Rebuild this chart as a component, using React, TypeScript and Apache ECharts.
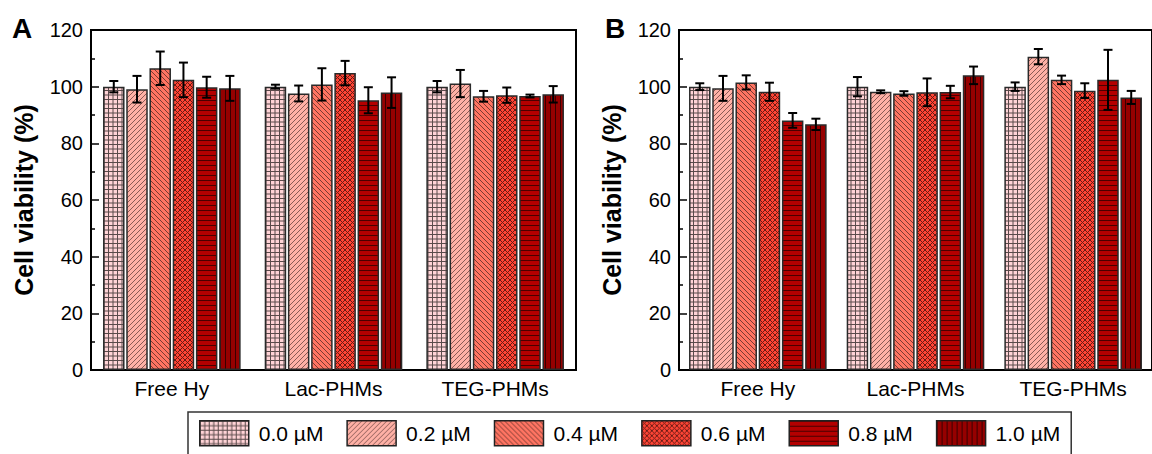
import React, { useEffect, useRef } from 'react';
import * as echarts from 'echarts';

const categories = ['Free Hy', 'Lac-PHMs', 'TEG-PHMs'];
const doses = ['0.0 µM', '0.2 µM', '0.4 µM', '0.6 µM', '0.8 µM', '1.0 µM'];
const yTicks = [0, 20, 40, 60, 80, 100, 120];

// Panel A: mean viability per dose (rows) across categories (columns)
const meansA = [
  [100.0, 100.0, 100.0],
  [99.1, 97.6, 101.1],
  [106.5, 100.8, 96.6],
  [102.4, 104.8, 97.0],
  [99.8, 95.2, 96.7],
  [99.4, 97.9, 97.3],
];
const errA = [
  [2.0, 0.7, 2.0],
  [4.7, 2.8, 4.8],
  [5.9, 5.7, 1.9],
  [6.1, 4.3, 2.7],
  [3.7, 4.6, 0.5],
  [4.4, 5.4, 2.9],
];
// Panel B
const meansB = [
  [100.0, 100.0, 100.0],
  [99.4, 98.2, 110.6],
  [101.5, 97.6, 102.4],
  [98.2, 98.0, 98.6],
  [88.1, 98.1, 102.4],
  [86.7, 104.0, 96.2],
];
const errB = [
  [1.2, 3.4, 1.5],
  [4.4, 0.5, 2.7],
  [2.5, 0.8, 1.5],
  [3.2, 4.9, 2.6],
  [2.6, 2.2, 10.6],
  [2.0, 3.1, 2.3],
];

const fills = ['#FFD3D6', '#FFB1A6', '#FF7462', '#FF4535', '#B40000', '#960000'];
const strokes = ['#5a4a4a', '#8a5a55', '#7a3a32', '#6a1a14', '#4a0000', '#3a0000'];
const kinds = ['grid', 'up', 'down', 'cross', 'h', 'v'];
const sizes = [4.5, 5, 5, 5, 5, 5];

function makePattern(kind: string, bg: string, fg: string, s: number) {
  const c = document.createElement('canvas');
  const n = Math.round(s * 2);
  c.width = n;
  c.height = n;
  const ctx = c.getContext('2d')!;
  ctx.fillStyle = bg;
  ctx.fillRect(0, 0, n, n);
  ctx.strokeStyle = fg;
  ctx.lineWidth = 1;
  const t = n;
  const up = () => {
    ctx.beginPath();
    for (const o of [-t, 0, t]) {
      ctx.moveTo(o, t);
      ctx.lineTo(o + t, 0);
      ctx.moveTo(o - t / 2, t / 2 + 0);
      ctx.lineTo(o + t / 2, -t / 2);
    }
    // two lines per tile
    ctx.moveTo(-1, t / 2 + 1);
    ctx.lineTo(t / 2 + 1, -1);
    ctx.moveTo(t / 2 - 1, t + 1);
    ctx.lineTo(t + 1, t / 2 - 1);
    ctx.stroke();
  };
  const down = () => {
    ctx.beginPath();
    ctx.moveTo(-1, -1);
    ctx.lineTo(t + 1, t + 1);
    ctx.moveTo(t / 2 - 1, -1);
    ctx.lineTo(t + 1, t / 2 + 1);
    ctx.moveTo(-1, t / 2 - 1);
    ctx.lineTo(t / 2 + 1, t + 1);
    ctx.moveTo(-t / 2 - 1, -1);
    ctx.lineTo(t / 2 + 1, t + 1);
    ctx.moveTo(t / 2 - 1, -1);
    ctx.lineTo(3 * t / 2 + 1, t + 1);
    ctx.stroke();
  };
  const upClean = () => {
    ctx.beginPath();
    ctx.moveTo(-1, t + 1);
    ctx.lineTo(t + 1, -1);
    ctx.moveTo(-1, t / 2 + 1);
    ctx.lineTo(t / 2 + 1, -1);
    ctx.moveTo(t / 2 - 1, t + 1);
    ctx.lineTo(t + 1, t / 2 - 1);
    ctx.stroke();
  };
  if (kind === 'grid') {
    ctx.beginPath();
    ctx.moveTo(0.5, 0);
    ctx.lineTo(0.5, t);
    ctx.moveTo(t / 2 + 0.5, 0);
    ctx.lineTo(t / 2 + 0.5, t);
    ctx.moveTo(0, 0.5);
    ctx.lineTo(t, 0.5);
    ctx.moveTo(0, t / 2 + 0.5);
    ctx.lineTo(t, t / 2 + 0.5);
    ctx.stroke();
  } else if (kind === 'h') {
    ctx.beginPath();
    ctx.moveTo(0, 0.5);
    ctx.lineTo(t, 0.5);
    ctx.moveTo(0, t / 2 + 0.5);
    ctx.lineTo(t, t / 2 + 0.5);
    ctx.stroke();
  } else if (kind === 'v') {
    ctx.beginPath();
    ctx.moveTo(0.5, 0);
    ctx.lineTo(0.5, t);
    ctx.moveTo(t / 2 + 0.5, 0);
    ctx.lineTo(t / 2 + 0.5, t);
    ctx.stroke();
  } else if (kind === 'up') {
    upClean();
  } else if (kind === 'down') {
    down();
  } else if (kind === 'cross') {
    upClean();
    down();
  }
  void up;
  return { image: c, repeat: 'repeat', imageWidth: n, imageHeight: n };
}

const BAR_W = 21.5;
const GAP = 0.08;
const PITCH = BAR_W * (1 + GAP);
const FONT = 'Liberation Sans, Arial, sans-serif';

function buildOption() {
  const patterns = kinds.map((k, i) => makePattern(k, fills[i], strokes[i], sizes[i]));
  const grids = [
    { left: 91, top: 30, width: 485, height: 340, show: true, borderColor: '#000', borderWidth: 2, backgroundColor: 'transparent' },
    { left: 679, top: 30, width: 485, height: 340, show: true, borderColor: '#000', borderWidth: 2, backgroundColor: 'transparent' },
  ];
  const xAxes = [0, 1].map((g) => ({
    type: 'category',
    gridIndex: g,
    data: categories,
    axisLine: { lineStyle: { color: '#000', width: 2 } },
    axisTick: { show: false },
    axisLabel: { color: '#000', fontSize: 21, fontFamily: FONT, margin: 8 },
  }));
  const yAxes = [0, 1].map((g) => ({
    type: 'value',
    gridIndex: g,
    min: yTicks[0],
    max: yTicks[yTicks.length - 1],
    interval: 20,
    axisLine: { show: true, lineStyle: { color: '#000', width: 2 } },
    axisTick: { show: true, inside: true, length: 8, lineStyle: { color: '#000', width: 1.5 } },
    minorTick: { show: true, splitNumber: 2, length: 4, lineStyle: { color: '#000', width: 1.5 } },
    splitLine: { show: false },
    axisLabel: { color: '#000', fontSize: 20, fontFamily: FONT, margin: 8 },
  }));
  const series: any[] = [];
  const panels = [
    { means: meansA, errs: errA },
    { means: meansB, errs: errB },
  ];
  panels.forEach((p, g) => {
    doses.forEach((d, i) => {
      series.push({
        type: 'bar',
        name: d,
        xAxisIndex: g,
        yAxisIndex: g,
        barWidth: BAR_W,
        barGap: GAP * 100 + '%',
        data: p.means[i],
        itemStyle: { color: patterns[i], borderColor: '#2a2a2a', borderWidth: 1.5 },
        z: 2,
      });
    });
    doses.forEach((d, i) => {
      series.push({
        type: 'custom',
        name: 'err-' + g + '-' + i,
        xAxisIndex: g,
        yAxisIndex: g,
        z: 5,
        data: p.means[i].map((m, c) => [c, m, p.errs[i][c]]),
        encode: { x: 0, y: 1 },
        renderItem: (params: any, api: any) => {
          const c = api.value(0);
          const m = api.value(1);
          const e = api.value(2);
          const top = api.coord([c, m + e]);
          const bot = api.coord([c, m - e]);
          const x = top[0] + (i - 2.5) * PITCH;
          const hw = 4.5;
          const st = { stroke: '#000', lineWidth: 2 };
          return {
            type: 'group',
            children: [
              { type: 'line', shape: { x1: x, y1: top[1], x2: x, y2: bot[1] }, style: st },
              { type: 'line', shape: { x1: x - hw, y1: top[1], x2: x + hw, y2: top[1] }, style: st },
              { type: 'line', shape: { x1: x - hw, y1: bot[1], x2: x + hw, y2: bot[1] }, style: st },
            ],
          };
        },
      });
    });
  });

  return {
    animation: false,
    textStyle: { fontFamily: FONT },
    grid: grids,
    xAxis: xAxes,
    yAxis: yAxes,
    legend: {
      data: doses,
      left: 188,
      top: 412,
      orient: 'horizontal',
      icon: 'rect',
      itemWidth: 49,
      itemHeight: 25,
      itemGap: 23,
      padding: [8, 11, 20, 11],
      borderColor: '#333',
      borderWidth: 1.5,
      itemStyle: { borderColor: '#222', borderWidth: 1.5 },
      textStyle: { fontSize: 21, color: '#000', fontFamily: FONT, padding: [0, 0, 0, 5] },
    },
    graphic: [
      { type: 'text', left: 12, top: 14, style: { text: 'A', fontSize: 28, fontWeight: 'bold', fontFamily: FONT, fill: '#000' } },
      { type: 'text', left: 605, top: 14, style: { text: 'B', fontSize: 28, fontWeight: 'bold', fontFamily: FONT, fill: '#000' } },
      { type: 'text', x: 24, y: 200, rotation: Math.PI / 2, style: { text: 'Cell viability (%)', fontSize: 25, fontWeight: 'bold', fontFamily: FONT, fill: '#000', align: 'center', verticalAlign: 'middle' } },
      { type: 'text', x: 612, y: 200, rotation: Math.PI / 2, style: { text: 'Cell viability (%)', fontSize: 25, fontWeight: 'bold', fontFamily: FONT, fill: '#000', align: 'center', verticalAlign: 'middle' } },
    ],
    series,
  };
}

export default function App() {
  const ref = useRef<HTMLDivElement>(null);
  useEffect(() => {
    const chart = echarts.init(ref.current!, null, { renderer: 'svg' });
    chart.setOption(buildOption() as any);
    return () => chart.dispose();
  }, []);
  return <div ref={ref} style={{ position: 'absolute', left: 0, top: 0, width: 1152, height: 454 }} />;
}
